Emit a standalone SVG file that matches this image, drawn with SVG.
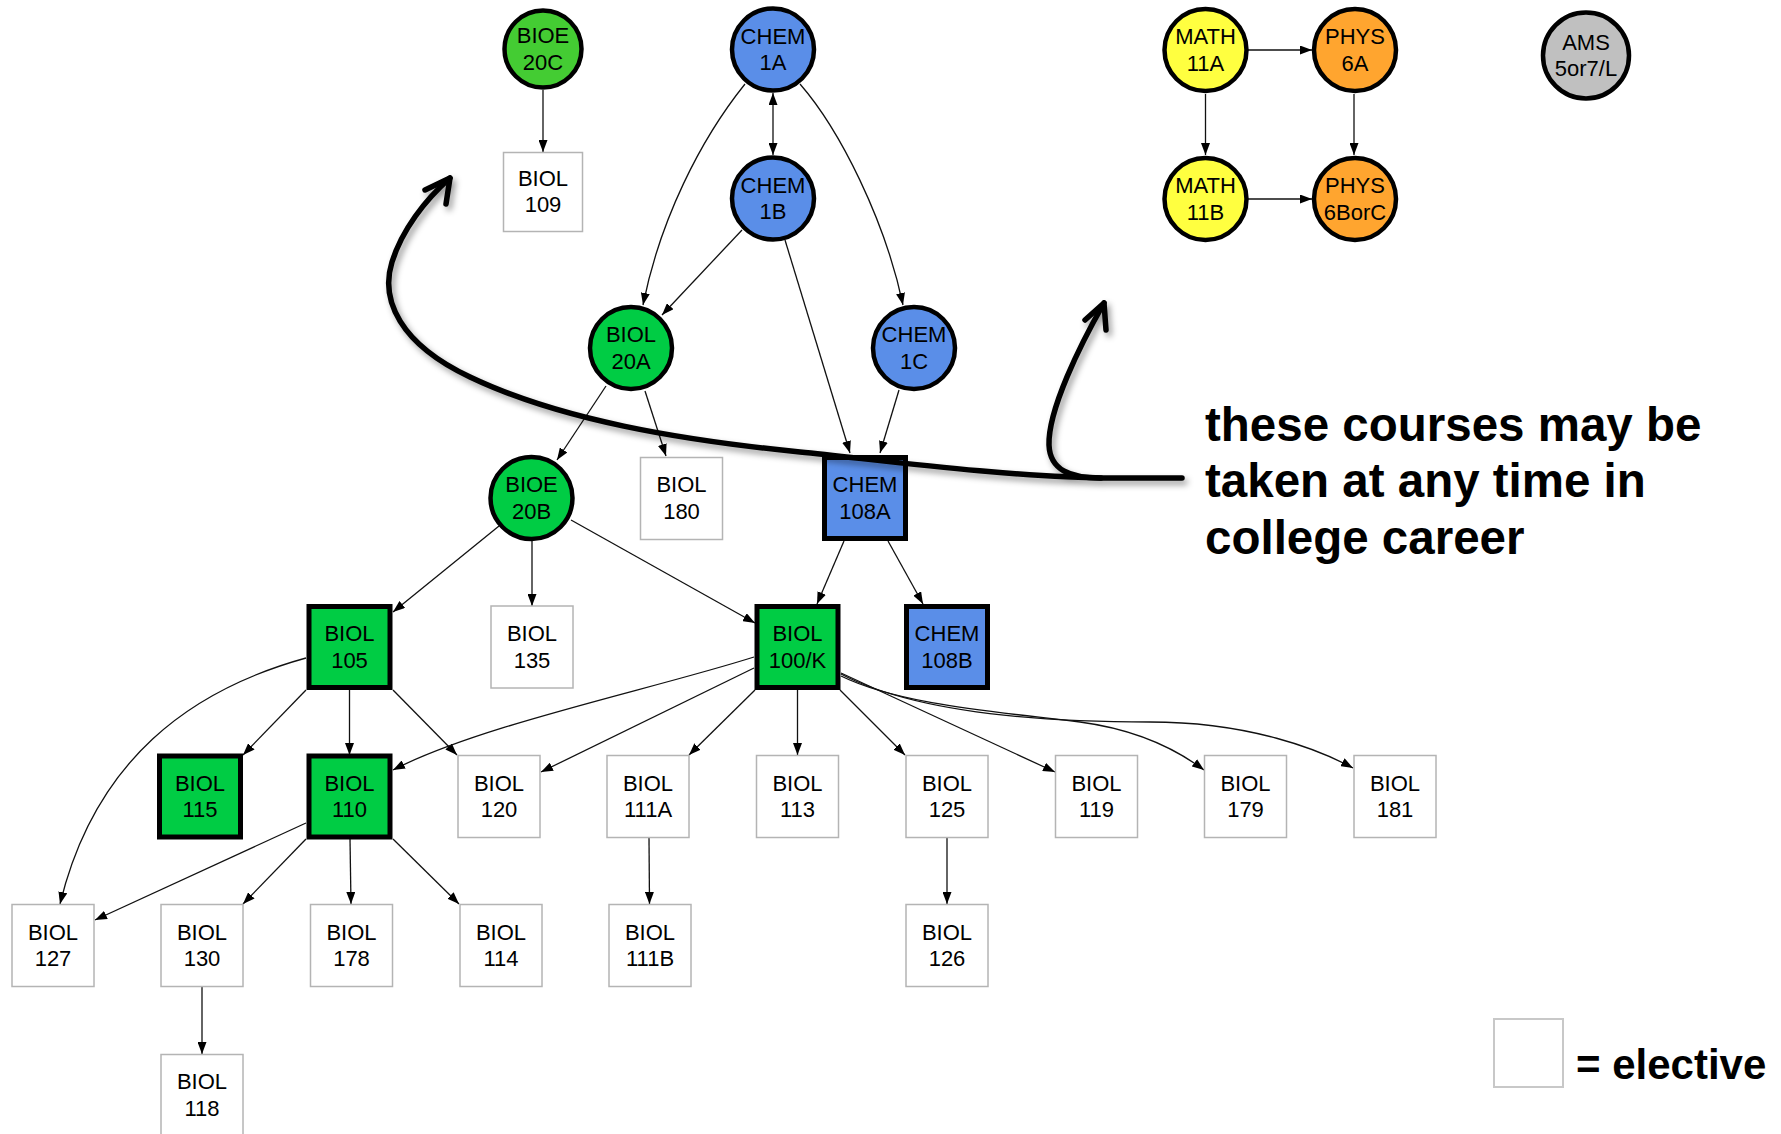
<svg xmlns="http://www.w3.org/2000/svg" width="1781" height="1134" viewBox="0 0 1781 1134">
<style>
  text { font-family: "Liberation Sans", Arial, Helvetica, sans-serif; fill: #000; }
  .lbl { font-size: 22px; text-anchor: middle; }
  .note { font-size: 47.5px; font-weight: bold; }
  .circ { stroke: #000; stroke-width: 4.5; }
  .core { stroke: #000; stroke-width: 5; }
  .elec { fill: #fff; stroke: #b4b4b4; stroke-width: 1.5; }
  .edge { fill: none; stroke: #111; stroke-width: 1.3; marker-end: url(#arr); }
  .green { fill: #00cc44; }
  .lgreen { fill: #44cc33; }
  .blue { fill: #5a8ee8; }
  .yellow { fill: #ffff40; }
  .orange { fill: #ffa52f; }
  .gray { fill: #c0c0c0; }
  .hand { fill: none; stroke: #000; stroke-width: 5.5; stroke-linecap: round; stroke-linejoin: round; }
</style>
<defs>
  <marker id="arr" viewBox="0 0 12 9" refX="12" refY="4.5" markerWidth="12" markerHeight="9" markerUnits="userSpaceOnUse" orient="auto-start-reverse">
    <path d="M0,0 L12,4.5 L0,9 z" fill="#000"/>
  </marker>
  <filter id="shadow" x="-10%" y="-10%" width="120%" height="130%">
    <feDropShadow dx="3" dy="4" stdDeviation="3" flood-color="#000" flood-opacity="0.4"/>
  </filter>
</defs>
<rect width="1781" height="1134" fill="#fff"/>

<g id="edges">
  <path class="edge" d="M543,90 L543,152"/>
  <path class="edge" d="M773,93 L773,155" marker-start="url(#arr)"/>
  <path class="edge" d="M745,84 C700,140 660,220 643,305"/>
  <path class="edge" d="M742,230 L662,315"/>
  <path class="edge" d="M800,84 C840,130 885,220 903,305"/>
  <path class="edge" d="M785,240 L850,453"/>
  <path class="edge" d="M899,390 L880,453"/>
  <path class="edge" d="M606,386 L557,460"/>
  <path class="edge" d="M645,391 L666,456"/>
  <path class="edge" d="M499,526 L393,612"/>
  <path class="edge" d="M532,541 L532,606"/>
  <path class="edge" d="M571,520 L755,623"/>
  <path class="edge" d="M844,541 L817,604"/>
  <path class="edge" d="M888,541 L923,604"/>
  <path class="edge" d="M306,658 C190,690 95,760 60,904"/>
  <path class="edge" d="M306,690 L243,755"/>
  <path class="edge" d="M349.5,690 L349.5,755"/>
  <path class="edge" d="M393,690 L457,755"/>
  <path class="edge" d="M754,657 C650,690 480,725 393,770"/>
  <path class="edge" d="M754,668 L541,772"/>
  <path class="edge" d="M755,690 L689,755"/>
  <path class="edge" d="M797.5,690 L797.5,755"/>
  <path class="edge" d="M840,690 L905,755"/>
  <path class="edge" d="M841,673 L1055,772"/>
  <path class="edge" d="M841,676 C900,705 1000,712 1080,722 C1140,730 1180,752 1204,770"/>
  <path class="edge" d="M841,674 C900,705 1000,722 1150,722 C1250,722 1320,750 1353,768"/>
  <path class="edge" d="M306,823 L95,920"/>
  <path class="edge" d="M306,839 L243,904"/>
  <path class="edge" d="M350,839 L351,904"/>
  <path class="edge" d="M393,839 L459,904"/>
  <path class="edge" d="M649,838 L649.5,904"/>
  <path class="edge" d="M947,838 L947,904"/>
  <path class="edge" d="M202,987 L202,1054"/>
  <path class="edge" d="M1248,50 L1312,50"/>
  <path class="edge" d="M1205.5,94 L1205.5,155"/>
  <path class="edge" d="M1354,94 L1354,155"/>
  <path class="edge" d="M1248,199 L1312,199"/>
</g>

<g id="BIOE20C"><circle class="circ lgreen" cx="543" cy="49" r="38.5"/><text class="lbl" x="543" y="43">BIOE</text><text class="lbl" x="543" y="69.5">20C</text></g>
<g id="CHEM1A"><circle class="circ blue" cx="773" cy="49.5" r="41"/><text class="lbl" x="773" y="43.5">CHEM</text><text class="lbl" x="773" y="70">1A</text></g>
<g id="CHEM1B"><circle class="circ blue" cx="773" cy="198.5" r="41"/><text class="lbl" x="773" y="192.5">CHEM</text><text class="lbl" x="773" y="219">1B</text></g>
<g id="BIOL20A"><circle class="circ green" cx="631" cy="348" r="41"/><text class="lbl" x="631" y="342">BIOL</text><text class="lbl" x="631" y="368.5">20A</text></g>
<g id="CHEM1C"><circle class="circ blue" cx="914" cy="348" r="41"/><text class="lbl" x="914" y="342">CHEM</text><text class="lbl" x="914" y="368.5">1C</text></g>
<g id="BIOE20B"><circle class="circ green" cx="531.5" cy="498" r="41"/><text class="lbl" x="531.5" y="492">BIOE</text><text class="lbl" x="531.5" y="518.5">20B</text></g>
<g id="MATH11A"><circle class="circ yellow" cx="1205.5" cy="50" r="41"/><text class="lbl" x="1205.5" y="44">MATH</text><text class="lbl" x="1205.5" y="70.5">11A</text></g>
<g id="PHYS6A"><circle class="circ orange" cx="1355" cy="50" r="41"/><text class="lbl" x="1355" y="44">PHYS</text><text class="lbl" x="1355" y="70.5">6A</text></g>
<g id="MATH11B"><circle class="circ yellow" cx="1205.5" cy="199" r="41"/><text class="lbl" x="1205.5" y="193">MATH</text><text class="lbl" x="1205.5" y="219.5">11B</text></g>
<g id="PHYS6BorC"><circle class="circ orange" cx="1355" cy="199" r="41"/><text class="lbl" x="1355" y="193">PHYS</text><text class="lbl" x="1355" y="219.5">6BorC</text></g>
<g id="AMS"><circle class="circ gray" cx="1586" cy="55.5" r="43"/><text class="lbl" x="1586" y="49.5">AMS</text><text class="lbl" x="1586" y="76">5or7/L</text></g>

<g id="BIOL109"><rect class="elec" x="503.5" y="152.5" width="79" height="79"/><text class="lbl" x="543" y="185.5">BIOL</text><text class="lbl" x="543" y="212">109</text></g>
<g id="BIOL180"><rect class="elec" x="640.5" y="457.5" width="82" height="82"/><text class="lbl" x="681.5" y="492">BIOL</text><text class="lbl" x="681.5" y="518.5">180</text></g>
<g id="CHEM108A"><rect class="core blue" x="824.5" y="457.5" width="81" height="81"/><text class="lbl" x="865" y="492">CHEM</text><text class="lbl" x="865" y="518.5">108A</text></g>

<g id="BIOL105"><rect class="core green" x="309" y="606.5" width="81" height="81"/><text class="lbl" x="349.5" y="641">BIOL</text><text class="lbl" x="349.5" y="667.5">105</text></g>
<g id="BIOL135"><rect class="elec" x="491" y="606" width="82" height="82"/><text class="lbl" x="532" y="641">BIOL</text><text class="lbl" x="532" y="667.5">135</text></g>
<g id="BIOL100K"><rect class="core green" x="757" y="606.5" width="81" height="81"/><text class="lbl" x="797.5" y="641">BIOL</text><text class="lbl" x="797.5" y="667.5">100/K</text></g>
<g id="CHEM108B"><rect class="core blue" x="906.5" y="606.5" width="81" height="81"/><text class="lbl" x="947" y="641">CHEM</text><text class="lbl" x="947" y="667.5">108B</text></g>

<g id="BIOL115"><rect class="core green" x="159.5" y="756" width="81" height="81"/><text class="lbl" x="200" y="790.5">BIOL</text><text class="lbl" x="200" y="817">115</text></g>
<g id="BIOL110"><rect class="core green" x="309" y="756" width="81" height="81"/><text class="lbl" x="349.5" y="790.5">BIOL</text><text class="lbl" x="349.5" y="817">110</text></g>
<g id="BIOL120"><rect class="elec" x="458" y="755.5" width="82" height="82"/><text class="lbl" x="499" y="790.5">BIOL</text><text class="lbl" x="499" y="817">120</text></g>
<g id="BIOL111A"><rect class="elec" x="607" y="755.5" width="82" height="82"/><text class="lbl" x="648" y="790.5">BIOL</text><text class="lbl" x="648" y="817">111A</text></g>
<g id="BIOL113"><rect class="elec" x="756.5" y="755.5" width="82" height="82"/><text class="lbl" x="797.5" y="790.5">BIOL</text><text class="lbl" x="797.5" y="817">113</text></g>
<g id="BIOL125"><rect class="elec" x="906" y="755.5" width="82" height="82"/><text class="lbl" x="947" y="790.5">BIOL</text><text class="lbl" x="947" y="817">125</text></g>
<g id="BIOL119"><rect class="elec" x="1055.5" y="755.5" width="82" height="82"/><text class="lbl" x="1096.5" y="790.5">BIOL</text><text class="lbl" x="1096.5" y="817">119</text></g>
<g id="BIOL179"><rect class="elec" x="1204.5" y="755.5" width="82" height="82"/><text class="lbl" x="1245.5" y="790.5">BIOL</text><text class="lbl" x="1245.5" y="817">179</text></g>
<g id="BIOL181"><rect class="elec" x="1354" y="755.5" width="82" height="82"/><text class="lbl" x="1395" y="790.5">BIOL</text><text class="lbl" x="1395" y="817">181</text></g>

<g id="BIOL127"><rect class="elec" x="12" y="904.5" width="82" height="82"/><text class="lbl" x="53" y="939.5">BIOL</text><text class="lbl" x="53" y="966">127</text></g>
<g id="BIOL130"><rect class="elec" x="161" y="904.5" width="82" height="82"/><text class="lbl" x="202" y="939.5">BIOL</text><text class="lbl" x="202" y="966">130</text></g>
<g id="BIOL178"><rect class="elec" x="310.5" y="904.5" width="82" height="82"/><text class="lbl" x="351.5" y="939.5">BIOL</text><text class="lbl" x="351.5" y="966">178</text></g>
<g id="BIOL114"><rect class="elec" x="460" y="904.5" width="82" height="82"/><text class="lbl" x="501" y="939.5">BIOL</text><text class="lbl" x="501" y="966">114</text></g>
<g id="BIOL111B"><rect class="elec" x="609" y="904.5" width="82" height="82"/><text class="lbl" x="650" y="939.5">BIOL</text><text class="lbl" x="650" y="966">111B</text></g>
<g id="BIOL126"><rect class="elec" x="906" y="904.5" width="82" height="82"/><text class="lbl" x="947" y="939.5">BIOL</text><text class="lbl" x="947" y="966">126</text></g>
<g id="BIOL118"><rect class="elec" x="161" y="1054.5" width="82" height="82"/><text class="lbl" x="202" y="1089">BIOL</text><text class="lbl" x="202" y="1115.5">118</text></g>

<g id="annotation" filter="url(#shadow)">
  <path class="hand" d="M1182,478 L1100,478 C1000,476 880,460 800,452 C680,440 560,420 470,377 C400,344 380,300 392,262 C402,230 425,200 450,178"/>
  <path class="hand" d="M425,190 L450,178 L446,204"/>
  <path class="hand" d="M1101,478 C1070,478 1050,470 1049,445 C1048,410 1080,345 1104,303"/>
  <path class="hand" d="M1085,320 L1104,303 L1106,330"/>
</g>
<g id="note">
  <text class="note" x="1205" y="441">these courses may be</text>
  <text class="note" x="1205" y="497">taken at any time in</text>
  <text class="note" x="1205" y="554">college career</text>
</g>

<g id="legend">
  <rect x="1494" y="1019" width="69" height="68" fill="#fff" stroke="#c8c8c8" stroke-width="2"/>
  <text x="1576" y="1079" font-size="42" font-weight="bold">= elective</text>
</g>
</svg>
